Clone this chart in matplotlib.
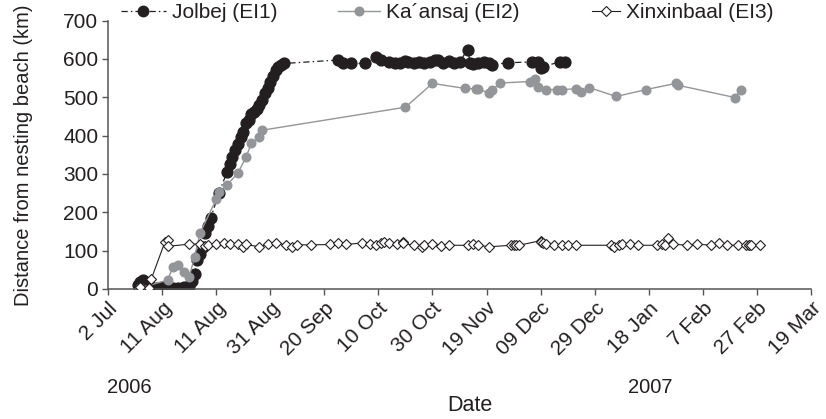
import matplotlib
matplotlib.use("Agg")
import matplotlib.pyplot as plt
from matplotlib.lines import Line2D

plt.rcParams['font.family'] = ['Liberation Sans', 'DejaVu Sans']

# Days since 2 Jul 2006
tick_days = [0, 20, 40, 60, 80, 100, 120, 140, 160, 180, 200, 220, 240, 260]
tick_labels = ["2 Jul", "11 Aug", "11 Aug", "31 Aug", "20 Sep", "10 Oct", "30 Oct",
               "19 Nov", "09 Dec", "29 Dec", "18 Jan", "7 Feb", "27 Feb", "19 Mar"]
y_ticks = [0, 100, 200, 300, 400, 500, 600, 700]

# Jolbej (EI1)
days1 = [11, 12, 13, 14, 15, 16, 18, 20, 22, 24, 26, 28, 30, 31, 32, 33, 34, 35, 36, 37, 38,
         41, 44, 45, 46, 47, 48, 49, 50, 51, 52, 53, 54, 55, 56, 57, 58, 59, 60, 61, 62, 63, 64, 65,
         85, 87, 90, 95, 99, 101, 104, 106, 108, 110, 111, 113, 115, 117, 119, 121, 122, 124, 126,
         128, 130, 133, 134, 135, 137, 139, 141, 142, 148, 157, 159, 160, 161, 167, 169]
vals1 = [10, 18, 23, 8, 5, 4, 3, 4, 3, 2, 3, 4, 8, 20, 40, 75, 90, 110, 145, 165, 185,
         250, 305, 325, 345, 362, 378, 395, 410, 432, 440, 455, 462, 470, 480, 492, 510, 525, 540, 555,
         570, 580, 585, 588,
         597, 590, 588, 588, 606, 596, 592, 588, 590, 595, 592, 588, 593, 590, 592, 596, 598, 590, 594,
         588, 592, 624, 590, 586, 590, 592, 588, 585, 590, 592, 593, 575, 580, 592, 592]

# Ka'ansaj (EI2)
days2 = [12, 22, 24, 26, 28, 30, 32, 34, 40, 41, 44, 48, 51, 53, 56, 57, 110, 120, 132, 136, 137,
         141, 142, 145, 156, 158, 159, 162, 166, 168, 173, 175, 178, 188, 199, 210, 211, 232, 234]
vals2 = [3, 23, 57, 62, 45, 31, 83, 145, 234, 252, 271, 302, 343, 380, 396, 414, 474, 536, 523, 522,
         522, 510, 518, 537, 541, 547, 526, 520, 520, 520, 522, 513, 525, 502, 520, 536, 531, 499, 520]

# Xinxinbaal (EI3)
days3 = [12, 15, 16, 21, 22, 22, 30, 34, 36, 37, 40, 43, 45, 48, 50, 51, 56, 59, 62, 66, 68, 70,
         75, 82, 85, 88, 94, 97, 99,
         101, 102, 104, 107, 109, 109, 113, 116, 117, 120, 123, 126, 133, 135, 137, 141, 149, 150,
         151, 152, 160, 160, 161, 162, 165, 168, 170, 173, 186, 187, 189, 190, 193, 196, 203, 205,
         206, 207, 209, 214, 218, 223, 226, 229, 233, 236, 237, 237, 238, 241]
vals3 = [6, 2, 26, 122, 128, 111, 117, 117, 112, 115, 117, 120, 116, 118, 110, 116, 110, 116, 121,
         114, 110, 115, 115, 116, 119, 116, 120, 118, 114,
         119, 123, 119, 117, 123, 119, 114, 110, 114, 117, 112, 114, 114, 117, 114, 110, 114, 114,
         114, 114, 126, 123, 121, 117, 114, 114, 114, 114, 114, 110, 114, 117, 117, 114, 114, 117,
         114, 134, 117, 114, 117, 114, 121, 114, 114, 114, 114, 114, 114, 114]

black = '#231f20'
grey = '#939598'

fig = plt.figure(figsize=(8.26, 4.19), dpi=100)
ax = fig.add_axes([0.1308, 0.3103, 0.8510, 0.6407])

dash_dot = (0, (5, 2.5, 1.2, 2.5))
l1, = ax.plot(days1, vals1, color=black, linestyle=dash_dot, linewidth=0.9, marker='o',
              markersize=7.8, markerfacecolor=black, markeredgecolor=black, zorder=2)
l2, = ax.plot(days2, vals2, color=grey, linestyle='-', linewidth=1.0, marker='o',
              markersize=6.2, markerfacecolor=grey, markeredgecolor=grey, zorder=3)
l3, = ax.plot(days3, vals3, color=black, linestyle='-', linewidth=0.8, marker='D',
              markersize=5.5, markerfacecolor='white', markeredgecolor=black,
              markeredgewidth=0.8, zorder=4)

ax.set_xlim(0, 260)
ax.set_ylim(0, 700)
ax.set_xticks(tick_days)
ax.set_xticklabels(tick_labels, rotation=45, ha='right', va='top', rotation_mode='anchor',
                   fontsize=15, color=black)
ax.set_yticks(y_ticks)
ax.set_yticklabels([str(v) for v in y_ticks], fontsize=15, color=black)
ax.tick_params(axis='both', direction='out', length=4, width=1, color='#555555', pad=3)
for s in ['top', 'right']:
    ax.spines[s].set_visible(False)
for s in ['left', 'bottom']:
    ax.spines[s].set_color('#555555')
    ax.spines[s].set_linewidth(1.1)

ax.set_ylabel('Distance from nesting beach (km)', fontsize=14.5, color=black)
ax.yaxis.set_label_coords(-0.107, 0.5)

fig.text(470 / 826, 1 - 405 / 419, 'Date', fontsize=15.5, color=black, ha='center', va='center')
fig.text(107 / 826, 1 - 387 / 419, '2006', fontsize=14.5, color=black, ha='left', va='center')
fig.text(628 / 826, 1 - 387 / 419, '2007', fontsize=14.5, color=black, ha='left', va='center')

def add_leg(handle, label, x, hl):
    leg = fig.legend([handle], [label], loc='center left', bbox_to_anchor=(x / 826, 1 - 13 / 419),
                     frameon=False, fontsize=15, handlelength=hl, handletextpad=0.3,
                     borderpad=0, borderaxespad=0, labelcolor=black)
    return leg

h1 = Line2D([], [], color=black, linestyle=dash_dot, linewidth=0.9, marker='o', markersize=7.5,
            markerfacecolor=black, markeredgecolor=black)
h2 = Line2D([], [], color=grey, linestyle='-', linewidth=1.0, marker='o', markersize=6.2,
            markerfacecolor=grey, markeredgecolor=grey)
h3 = Line2D([], [], color=black, linestyle='-', linewidth=0.8, marker='D', markersize=5.5,
            markerfacecolor='white', markeredgecolor=black, markeredgewidth=0.8)
add_leg(h1, 'Jolbej (EI1)', 121, 2.15)
add_leg(h2, 'Ka\u00b4ansaj (EI2)', 338, 2.0)
add_leg(h3, 'Xinxinbaal (EI3)', 592, 1.35)

fig.savefig('out.png', dpi=100)
